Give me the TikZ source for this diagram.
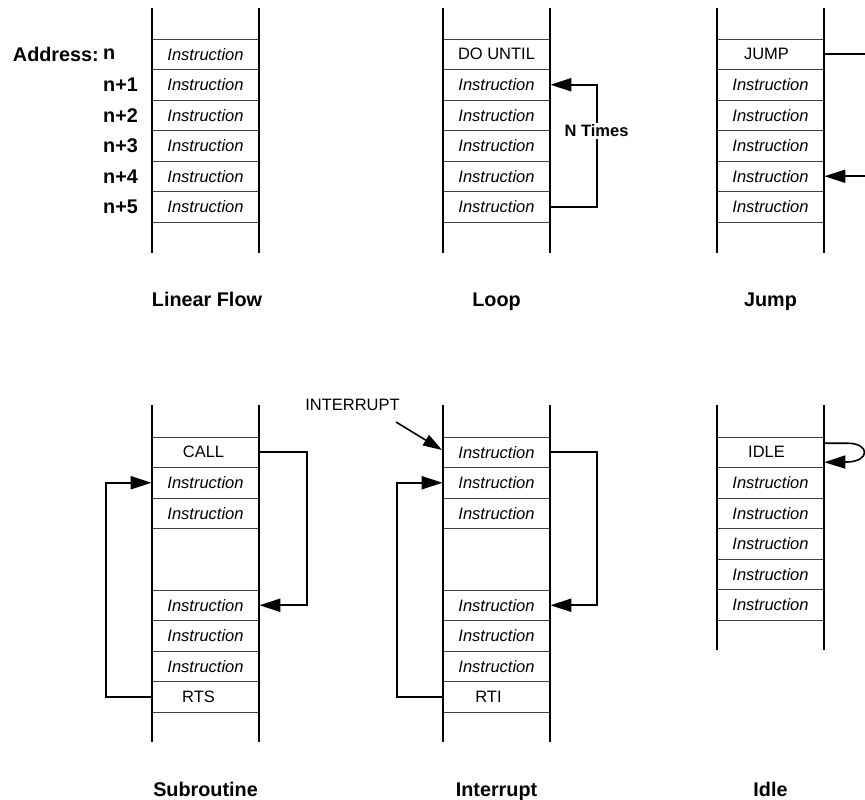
\documentclass[tikz,border=0pt]{standalone}
\usepackage{fontspec}
\setmainfont{Liberation Sans}
\usetikzlibrary{arrows.meta}
\tikzset{
  cell/.style={draw=black!75, line width=0.7pt, minimum width=107pt, minimum height=30.5pt,
    inner sep=0pt, font=\fontsize{16.5}{18}\selectfont},
  ins/.style={cell, font=\fontsize{16.5}{18}\selectfont\itshape},
  rail/.style={line width=2pt, black},
  conn/.style={line width=2pt, black},
  arr/.style={conn, -{Triangle[length=21pt,width=13pt]}},
  title/.style={font=\fontsize{19.8}{22}\selectfont\bfseries, anchor=base},
  addr/.style={font=\fontsize{19.8}{22}\selectfont\bfseries, inner sep=0pt}
}
\begin{document}
\begin{tikzpicture}[x=1pt,y=-1pt]
\useasboundingbox (0,0) rectangle (865,800);

% ---------- Linear Flow ----------
\node[ins] (a1) at (205.5,54.25) {Instruction};
\node[ins] (a2) at (205.5,84.75) {Instruction};
\node[ins] (a3) at (205.5,115.25) {Instruction};
\node[ins] (a4) at (205.5,145.75) {Instruction};
\node[ins] (a5) at (205.5,176.25) {Instruction};
\node[ins] (a6) at (205.5,206.75) {Instruction};
\draw[rail] (152,8) -- (152,253);
\draw[rail] (259,8) -- (259,253);
\node[addr, anchor=east] (addrlbl) at (99,54.25) {Address:};
\node[addr, anchor=west] (n0) at (103,54.25) {n};
\node[addr, anchor=west] (n1) at (103,84.75) {n+1};
\node[addr, anchor=west] (n2) at (103,115.25) {n+2};
\node[addr, anchor=west] (n3) at (103,145.75) {n+3};
\node[addr, anchor=west] (n4) at (103,176.25) {n+4};
\node[addr, anchor=west] (n5) at (103,206.75) {n+5};
\node[title] (t1) at (207,306) {Linear Flow};

% ---------- Loop ----------
\node[cell] (l1) at (496.5,54.25) {DO UNTIL};
\node[ins] (l2) at (496.5,84.75) {Instruction};
\node[ins] (l3) at (496.5,115.25) {Instruction};
\node[ins] (l4) at (496.5,145.75) {Instruction};
\node[ins] (l5) at (496.5,176.25) {Instruction};
\node[ins] (l6) at (496.5,206.75) {Instruction};
\draw[rail] (443,8) -- (443,253);
\draw[rail] (550,8) -- (550,253);
\draw[arr] (l6.east) -- ++(47,0) |- (l2.east);
\node[font=\fontsize{16.5}{18}\selectfont\bfseries, fill=white, inner sep=2pt] (ntimes) at (596.5,131) {N Times};
\node[title] (t2) at (496.5,306) {Loop};

% ---------- Jump ----------
\node[cell] (j1) at (770.5,54.25) {\hspace*{-8pt}JUMP};
\node[ins] (j2) at (770.5,84.75) {Instruction};
\node[ins] (j3) at (770.5,115.25) {Instruction};
\node[ins] (j4) at (770.5,145.75) {Instruction};
\node[ins] (j5) at (770.5,176.25) {Instruction};
\node[ins] (j6) at (770.5,206.75) {Instruction};
\draw[rail] (717,8) -- (717,253);
\draw[rail] (824,8) -- (824,253);
\coordinate (jout) at (868,54.25);
\coordinate (jin) at (868,176.25);
\draw[conn] (j1.east) -- (jout);
\draw[arr] (jin) -- (j5.east);
\node[title] (t3) at (770.5,306) {Jump};

% ---------- Subroutine ----------
\node[cell] (s1) at (205.5,452.25) {\hspace*{-4pt}CALL};
\node[ins] (s2) at (205.5,482.75) {Instruction};
\node[ins] (s3) at (205.5,513.25) {Instruction};
\node[ins] (s5) at (205.5,605.25) {Instruction};
\node[ins] (s6) at (205.5,635.75) {Instruction};
\node[ins] (s7) at (205.5,666.25) {Instruction};
\node[cell] (s8) at (205.5,696.75) {\hspace*{-14pt}RTS};
\draw[rail] (152,405) -- (152,742);
\draw[rail] (259,405) -- (259,742);
\draw[arr] (s1.east) -- ++(48,0) |- (s5.east);
\draw[arr] (s8.west) -- ++(-46,0) |- (s2.west);
\node[title] (t4) at (205.5,796) {Subroutine};

% ---------- Interrupt ----------
\node[ins] (i1) at (496.5,452.25) {Instruction};
\node[ins] (i2) at (496.5,482.75) {Instruction};
\node[ins] (i3) at (496.5,513.25) {Instruction};
\node[ins] (i5) at (496.5,605.25) {Instruction};
\node[ins] (i6) at (496.5,635.75) {Instruction};
\node[ins] (i7) at (496.5,666.25) {Instruction};
\node[cell] (i8) at (496.5,696.75) {\hspace*{-16pt}RTI};
\draw[rail] (443,405) -- (443,742);
\draw[rail] (550,405) -- (550,742);
\draw[arr] (i1.east) -- ++(47,0) |- (i5.east);
\draw[arr] (i8.west) -- ++(-46,0) |- (i2.west);
\node[font=\fontsize{16.5}{18}\selectfont, inner sep=0pt] (intlbl) at (352.5,404.5) {INTERRUPT};
\coordinate (intstart) at (396,422);
\coordinate (intend) at (442,450);
\draw[conn, line width=1.6pt, -{Triangle[length=19pt,width=12pt]}] (intstart) -- (intend);
\node[title] (t5) at (496.5,796) {Interrupt};

% ---------- Idle ----------
\node[cell] (d1) at (770.5,452.25) {\hspace*{-8pt}IDLE};
\node[ins] (d2) at (770.5,482.75) {Instruction};
\node[ins] (d3) at (770.5,513.25) {Instruction};
\node[ins] (d4) at (770.5,543.75) {Instruction};
\node[ins] (d5) at (770.5,574.25) {Instruction};
\node[ins] (d6) at (770.5,604.75) {Instruction};
\draw[rail] (717,405) -- (717,650);
\draw[rail] (824,405) -- (824,650);
\coordinate (idA) at (848,443.25);
\coordinate (idB) at (870,443.5);
\coordinate (idC) at (870,461);
\coordinate (idD) at (848,462);
\draw[arr, line width=1.6pt] ([yshift=9pt]d1.east) -- (idA) .. controls (idB) and (idC) .. (idD) -- ([yshift=-10pt]d1.east);
\node[title] (t6) at (770.5,796) {Idle};
\end{tikzpicture}
\end{document}
